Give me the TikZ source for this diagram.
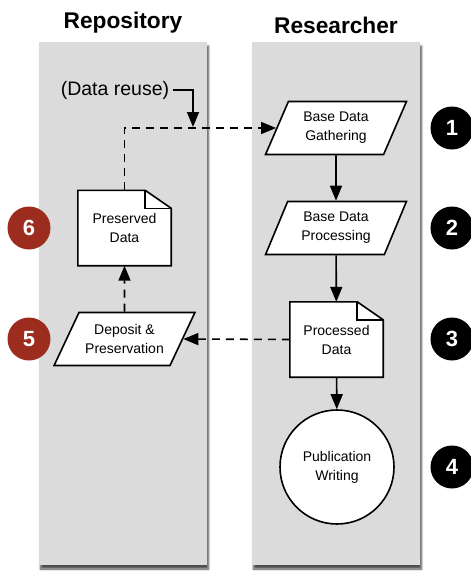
\documentclass[tikz,border=0pt]{standalone}
\usepackage{fontspec}
\setmainfont{Liberation Sans}
\usetikzlibrary{backgrounds, positioning, shapes.geometric, arrows.meta,
                shadows.blur}

\definecolor{lanegray}{RGB}{219,219,219}
\definecolor{steprd}{RGB}{155,44,30}

% document outline with a dog-ear, drawn behind the node text
\newcommand\docshape[1]{%
  \filldraw[fill=white, line width=1.6pt]
    (#1.south west) -- (#1.north west) -- ([xshift=-26pt]#1.north east)
    -- ([yshift=-18pt]#1.north east) -- (#1.south east) -- cycle;
  \draw[line width=1.6pt]
    ([xshift=-26pt]#1.north east) |- ([yshift=-18pt]#1.north east);}

\begin{document}
\begin{tikzpicture}[x=1pt, y=-1pt,
    lane/.style={fill=lanegray, minimum width=168pt, minimum height=523pt,
                 blur shadow={shadow xshift=1.5pt, shadow yshift=-4pt,
                              shadow opacity=70, shadow blur steps=6}},
    title/.style={font=\fontsize{22.7}{26}\selectfont\bfseries},
    txt/.style={align=center, font=\fontsize{14}{19}\selectfont},
    io/.style={txt, draw, fill=white, line width=1.6pt, trapezium,
               trapezium stretches=true, minimum height=53pt,
               minimum width=141pt},
    doc/.style={txt, minimum width=93pt, minimum height=75pt},
    num/.style={circle, fill=black, text=white, minimum size=43pt,
                inner sep=0pt, font=\fontsize{22}{22}\selectfont\bfseries},
    flow/.style={line width=1.6pt, -{Triangle[length=15pt,width=12pt]}},
    reuse/.style={flow, dash pattern=on 8pt off 6pt}]
  \useasboundingbox (0,0) rectangle (471,576);

  % swim lanes
  \begin{scope}[on background layer]
    \node[lane] (repo) at (123,303.5) {};
    \node[lane] (res)  at (336,303.5) {};
  \end{scope}
  \node[title, above=5pt of repo.north] {Repository};
  \node[title, above=5pt of res.north]  {Researcher};

  % researcher side
  \node[io, trapezium left angle=65.6, trapezium right angle=114.4]
    (bdg) at (336,128) {Base Data\\Gathering};
  \node[io, trapezium left angle=65.6, trapezium right angle=114.4]
    (bdp) at (336,228) {Base Data\\Processing};
  \node[doc] (pd) at (336.5,339.5) {Processed\\Data};
  \node[txt, circle, draw, fill=white, line width=1.6pt, minimum size=114pt]
    (pw) at (337,467) {Publication\\Writing};

  % repository side
  \node[doc] (prd) at (124.5,228) {Preserved\\Data};
  \node[io, trapezium left angle=57, trapezium right angle=123]
    (dp) at (124.5,339) {Deposit \&\\Preservation};

  \begin{scope}[on background layer]
    \docshape{pd}
    \docshape{prd}
  \end{scope}

  \node[font=\fontsize{19.5}{22}\selectfont] (dr) at (115,90) {(Data reuse)};
  \coordinate (drhit) at (193,127);

  % connectors
  \draw[flow] (bdg) -- (bdp);
  \draw[flow] (bdp) -- (pd);
  \draw[flow] (pd) -- (pw);
  \draw[reuse] (pd.west) -- (dp.east);
  \draw[reuse] (dp.north) -- (prd.south);
  \draw[reuse] (prd.north) |- (bdg.west);
  \draw[flow] (dr.east) -| (drhit);

  % step numbers
  \foreach \n/\y in {1/128, 2/228, 3/339, 4/467}
    \node[num] (n\n) at (452,\y) {\n};
  \node[num, fill=steprd] (n5) at (29,339) {5};
  \node[num, fill=steprd] (n6) at (29,228) {6};
\end{tikzpicture}
\end{document}
